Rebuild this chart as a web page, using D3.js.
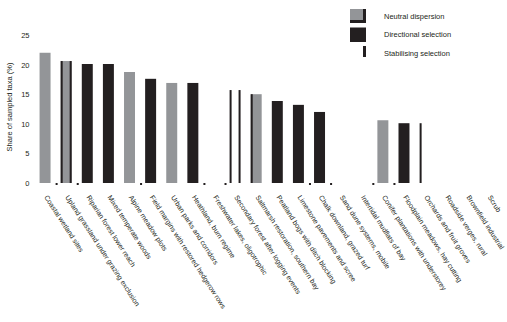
<!DOCTYPE html>
<html>
<head>
<meta charset="utf-8">
<script src="https://cdn.jsdelivr.net/npm/d3@7"></script>
<style>
  html, body { margin: 0; padding: 0; background: #fff; }
  svg { display: block; font-family: "Liberation Sans", Arial, sans-serif; }
</style>
</head>
<body>
<div id="chart"></div>
<script>
// Ranked bar chart, three series (grey bars, black bars, thin edge bars)

const categories = [
    'Coastal wetland sites',
    'Upland grassland under grazing exclusion',
    'Riparian forest lower reach',
    'Mixed temperate woods',
    'Alpine meadow plots',
    'Field margins with restored hedgerow rows',
    'Urban parks and corridors',
    'Heathland, burn regime',
    'Freshwater lakes, oligotrophic',
    'Secondary forest after logging events',
    'Saltmarsh restoration, southern bay',
    'Peatland bogs with ditch blocking',
    'Limestone pavements and scree',
    'Chalk downland, grazed turf',
    'Sand dune systems, mobile',
    'Intertidal mudflats of bay',
    'Conifer plantations with understorey',
    'Floodplain meadows, hay cutting',
    'Orchards and fruit groves',
    'Roadside verges, rural',
    'Brownfield industrial',
    'Scrub'
];

// values (null = no bar)
const greyValues  = [22.0, 20.6, null, null, 18.75, null, 16.9, null, null, null, 15.0, null, null, null, null, null, 10.6, null, null, null, null, null];
const blackValues = [null, null, 20.1, 20.1, null, 17.6, null, 16.9, null, null, null, 13.85, 13.2, 12.0, null, null, null, 10.1, null, null, null, null];
const edgeLeft    = [null, 20.6, null, null, null, null, null, null, null, 15.7, 15.0, null, null, null, null, null, null, null, 10.1, null, null, null];
const edgeRight   = [null, 20.6, null, null, null, null, null, null, null, 15.7, null, null, null, null, null, null, null, null, null, null, null, null];
const baseTicks   = [0, 1, 4, 7, 8, 12, 13, 15, 16];

const yTicks = [0, 5, 10, 15, 20, 25];
const seriesNames = ['Neutral dispersion', 'Directional selection', 'Stabilising selection'];
const yTitle = 'Share of sampled taxa (%)';

const grey = '#939598';
const black = '#231f20';

const width = 507, height = 322;
const margin = { top: 35, right: 8, bottom: 139, left: 34.5 };

const svg = d3.select('#chart').append('svg')
    .attr('width', width)
    .attr('height', height);

const x = d3.scaleBand()
    .domain(d3.range(categories.length))
    .range([margin.left, width - margin.right])
    .paddingInner(0.48)
    .paddingOuter(0.24);

const y = d3.scaleLinear()
    .domain([0, 25])
    .range([height - margin.bottom, margin.top]);

const bw = x.bandwidth();
const edgeW = 2;

// grey bars
svg.append('g')
    .selectAll('rect')
    .data(greyValues.map((v, i) => ({ i, v })).filter(d => d.v != null))
    .join('rect')
    .attr('x', d => x(d.i))
    .attr('y', d => y(d.v))
    .attr('width', bw)
    .attr('height', d => y(0) - y(d.v))
    .attr('fill', grey);

// black bars
svg.append('g')
    .selectAll('rect')
    .data(blackValues.map((v, i) => ({ i, v })).filter(d => d.v != null))
    .join('rect')
    .attr('x', d => x(d.i))
    .attr('y', d => y(d.v))
    .attr('width', bw)
    .attr('height', d => y(0) - y(d.v))
    .attr('fill', black);

// thin edge bars
const edges = [];
edgeLeft.forEach((v, i) => { if (v != null) edges.push({ i, v, side: 'left' }); });
edgeRight.forEach((v, i) => { if (v != null) edges.push({ i, v, side: 'right' }); });

svg.append('g')
    .selectAll('rect')
    .data(edges)
    .join('rect')
    .attr('x', d => d.side === 'left' ? x(d.i) : x(d.i) + bw - edgeW)
    .attr('y', d => y(d.v))
    .attr('width', edgeW)
    .attr('height', d => y(0) - y(d.v))
    .attr('fill', black);

// small marks on the baseline between some groups
const step = x.step();
svg.append('g')
    .selectAll('rect')
    .data(baseTicks)
    .join('rect')
    .attr('x', d => x(d) + bw / 2 + step / 2)
    .attr('y', y(0))
    .attr('width', 2)
    .attr('height', 2)
    .attr('fill', black);

// y axis (labels only)
const yAxis = svg.append('g')
    .attr('transform', `translate(${margin.left - 3},0)`)
    .call(d3.axisLeft(y).tickValues(yTicks).tickSize(0).tickPadding(2));
yAxis.select('.domain').remove();
yAxis.selectAll('text')
    .style('font-size', '7.5px')
    .style('fill', '#231f20');

svg.append('text')
    .attr('transform', `translate(12, ${(y(0) + y(25)) / 2 - 2}) rotate(-90)`)
    .attr('text-anchor', 'middle')
    .style('font-size', '7.5px')
    .style('fill', '#231f20')
    .text(yTitle);

// rotated category labels
svg.append('g')
    .selectAll('text')
    .data(categories)
    .join('text')
    .attr('transform', (d, i) => `translate(${x(i) + bw / 2 + 1}, ${y(0) + 13}) rotate(57)`)
    .attr('dy', '0.35em')
    .attr('text-anchor', 'start')
    .style('font-size', '7px')
    .style('fill', '#231f20')
    .text(d => d);

// legend
const legend = svg.append('g').attr('transform', 'translate(350, 9)');
const rowH = 18.5;

// item 1: grey swatch with black right/bottom edge
legend.append('rect').attr('x', 0).attr('y', 0).attr('width', 16).attr('height', 14).attr('fill', black);
legend.append('rect').attr('x', 0).attr('y', 0).attr('width', 13).attr('height', 11).attr('fill', grey);
// item 2: black swatch
legend.append('rect').attr('x', 0).attr('y', rowH).attr('width', 16).attr('height', 14.5).attr('fill', black);
// item 3: thin line
legend.append('rect').attr('x', 13).attr('y', rowH * 2).attr('width', 3).attr('height', 11).attr('fill', black);

legend.selectAll('text.leg')
    .data(seriesNames)
    .join('text')
    .attr('class', 'leg')
    .attr('x', 34)
    .attr('y', (d, i) => i * rowH + 7)
    .attr('dy', '0.35em')
    .style('font-size', '7.5px')
    .style('fill', '#231f20')
    .text(d => d);
</script>
</body>
</html>
